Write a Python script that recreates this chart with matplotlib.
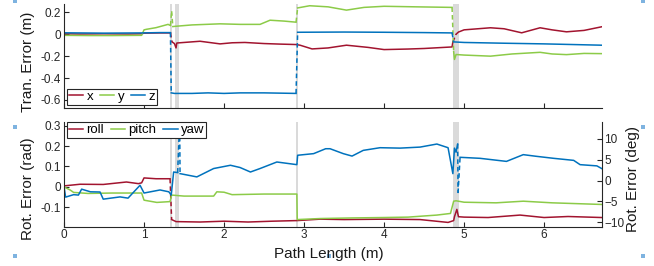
import numpy as np
import matplotlib
matplotlib.use("Agg")
import matplotlib.pyplot as plt
from matplotlib.ticker import FuncFormatter
from matplotlib.patches import Rectangle

plt.rcParams['font.family'] = ['Liberation Sans', 'DejaVu Sans']

nan = np.nan
# ---------------- translation error (m) ----------------
tx_x = [0, 0.2, 0.5, 0.8, 0.97, 1.0, 1.2, 1.33, nan,
        1.35, 1.38, 1.40, 1.41, 1.5, 1.7, 1.95, 2.1, 2.26, 2.5, 2.7, 2.9, 2.95, 3.1, 3.3, 3.53, 3.8, 4.0, 4.3, 4.5, 4.85, 4.86, nan,
        4.9, 4.93, 5.0, 5.33, 5.5, 5.72, 5.95, 6.1, 6.28, 6.5, 6.72]
tx_v = [0.004, 0.002, 0.004, 0.002, 0.004, 0.01, 0.012, 0.012, nan,
        -0.07, -0.085, -0.125, -0.08, -0.075, -0.064, -0.088, -0.078, -0.075, -0.085, -0.09, -0.094, -0.1, -0.134, -0.125, -0.1, -0.12, -0.14, -0.135, -0.13, -0.116, -0.07, nan,
        0.0, 0.02, 0.04, 0.059, 0.05, 0.013, 0.059, 0.04, 0.022, 0.035, 0.068]

ty_x = [0, 0.3, 0.6, 0.97, 1.0, 1.03, 1.15, 1.3, 1.33, nan, 1.345, nan,
        1.36, 1.4, 1.6, 1.95, 2.2, 2.45, 2.575, 2.75, 2.9, nan,
        2.92, 3.07, 3.3, 3.53, 3.75, 4.0, 4.4, 4.85, nan,
        4.87, 4.88, 4.9, 5.0, 5.33, 5.6, 5.95, 6.1, 6.28, 6.5, 6.72]
ty_v = [-0.01, -0.012, -0.012, -0.01, 0.04, 0.045, 0.06, 0.09, 0.08, nan, 0.21, nan,
        0.07, 0.073, 0.085, 0.095, 0.09, 0.09, 0.128, 0.12, 0.11, nan,
        0.24, 0.26, 0.25, 0.22, 0.245, 0.255, 0.25, 0.245, nan,
        -0.16, -0.23, -0.185, -0.19, -0.2, -0.18, -0.165, -0.18, -0.186, -0.175, -0.177]

tz_x = [0, 0.5, 0.97, 1.2, 1.33, nan,
        1.34, 1.38, 1.42, 1.6, 1.8, 2.0, 2.2, 2.5, 2.9, nan,
        2.92, 3.5, 4.0, 4.5, 4.85, nan,
        4.87, 5.0, 5.5, 6.0, 6.72]
tz_v = [0.013, 0.01, 0.012, 0.015, 0.015, nan,
        -0.535, -0.54, -0.54, -0.54, -0.535, -0.54, -0.535, -0.535, -0.54, nan,
        0.018, 0.02, 0.018, 0.015, 0.012, nan,
        -0.07, -0.075, -0.082, -0.088, -0.1]

# ---------------- rotation error (rad) ----------------
roll_x = [0, 0.2, 0.49, 0.78, 0.93, 0.97, 1.0, 1.15, 1.325, nan,
          1.345, 1.4, 1.7, 2.0, 2.3, 2.6, 2.91, 3.2, 3.5, 4.0, 4.45, 4.8, 4.87, 4.88, 4.91, 4.93, 5.0, 5.3, 5.7, 6.0, 6.3, 6.72]
roll_v = [0.005, 0.013, 0.012, 0.024, 0.016, 0.02, 0.044, 0.04, 0.04, nan,
          -0.16, -0.17, -0.172, -0.168, -0.172, -0.168, -0.165, -0.158, -0.16, -0.158, -0.16, -0.174, -0.165, -0.146, -0.11, -0.146, -0.148, -0.15, -0.138, -0.15, -0.145, -0.15]

pitch_x = [0, 0.08, 0.12, 0.3, 0.6, 0.97, 1.0, 1.16, 1.325, 1.345, 1.5, 1.87, 1.91, 2.0, 2.1, 2.5, 2.91,
           2.915, 3.2, 3.6, 4.0, 4.3, 4.66, 4.83, 4.87, 4.9, 5.0, 5.4, 5.74, 6.1, 6.72]
pitch_v = [0.0, -0.016, -0.027, -0.032, -0.03, -0.03, -0.065, -0.076, -0.072, -0.04, -0.045, -0.045, -0.024, -0.026, -0.038, -0.035, -0.035,
           -0.16, -0.155, -0.152, -0.15, -0.148, -0.138, -0.13, -0.07, -0.068, -0.075, -0.078, -0.07, -0.078, -0.086]

yaw_x = [0, 0.02, 0.12, 0.18, 0.22, 0.33, 0.45, 0.49, 0.7, 0.8, 0.95, 1.0, 1.2, 1.31, 1.34, 1.37, 1.42, nan, 1.445, nan,
         1.45, 1.66, 1.87, 2.08, 2.2, 2.33, 2.45, 2.66, 2.91, 2.92, 3.12, 3.27, 3.325, 3.49, 3.6, 3.74, 3.95, 4.2, 4.45, 4.66, 4.8,
         4.86, 4.88, 4.9, 4.92, nan, 4.925, nan,
         4.95, 5.2, 5.53, 5.74, 5.9, 6.12, 6.37, 6.45, 6.66, 6.72]
yaw_v = [0.0, -0.05, -0.038, -0.04, -0.011, -0.024, -0.025, -0.06, -0.049, -0.055, 0.008, -0.03, -0.015, -0.024, -0.04, 0.073, 0.07, nan, 0.32, nan,
         0.065, 0.049, 0.09, 0.106, 0.095, 0.073, 0.09, 0.122, 0.109, 0.155, 0.163, 0.187, 0.187, 0.163, 0.151, 0.179, 0.192, 0.19, 0.195, 0.21, 0.192,
         0.065, 0.19, 0.17, 0.21, nan, -0.03, nan,
         0.145, 0.14, 0.125, 0.158, 0.15, 0.14, 0.13, 0.109, 0.103, 0.09]

# shaded regions (path length, m)
band_lo = [1.33, 1.39, 2.90, 4.86]
band_hi = [1.35, 1.44, 2.92, 4.94]

c_red = '#A2142F'
c_green = '#8CCB48'
c_blue = '#0072BD'
axis_c = '#262626'

fig = plt.figure(figsize=(6.54, 2.66), dpi=100)
ax1 = fig.add_axes([0.0979, 0.594, 0.8221, 0.391])
ax2 = fig.add_axes([0.0979, 0.1477, 0.8221, 0.3937])
ax3 = ax2.twinx()

def draw(ax, xs, vs, color, label):
    xs = np.asarray(xs, float); vs = np.asarray(vs, float)
    ax.plot(xs, vs, color=color, lw=1.1, label=label, solid_joinstyle='round')
    # dashed connectors across gaps
    idx = np.where(np.isnan(xs))[0]
    for i in idx:
        j0 = i - 1
        j1 = i + 1
        if j0 >= 0 and j1 < len(xs) and not np.isnan(xs[j0]) and not np.isnan(xs[j1]):
            ax.plot([xs[j0], xs[j1]], [vs[j0], vs[j1]], color=color, lw=1.1, ls=(0, (3, 2)))

for ax in (ax1, ax2):
    for lo, hi in zip(band_lo, band_hi):
        ax.axvspan(lo, hi, color='#DADADA', lw=0, zorder=0)

draw(ax1, tx_x, tx_v, c_red, 'x')
draw(ax1, ty_x, ty_v, c_green, 'y')
draw(ax1, tz_x, tz_v, c_blue, 'z')

draw(ax2, roll_x, roll_v, c_red, 'roll')
draw(ax2, pitch_x, pitch_v, c_green, 'pitch')
draw(ax2, yaw_x, yaw_v, c_blue, 'yaw')

fmt = FuncFormatter(lambda v, p: '%g' % round(v, 6))

ax1.set_xlim(0, 6.72)
ax1.set_ylim(-0.673, 0.276)
ax1.set_yticks([-0.6, -0.4, -0.2, 0, 0.2])
ax1.yaxis.set_major_formatter(fmt)
ax1.set_xticks(range(0, 7))
ax1.tick_params(labelbottom=False)
ax1.spines['top'].set_visible(False)
ax1.spines['right'].set_visible(False)

ax2.set_xlim(0, 6.72)
ax2.set_ylim(-0.195, 0.318)
ax2.set_yticks([-0.1, 0, 0.1, 0.2, 0.3])
ax2.yaxis.set_major_formatter(fmt)
ax2.set_xticks(range(0, 7))
ax2.spines['top'].set_visible(False)
ax2.spines['right'].set_visible(False)

ax3.set_ylim(-11.06, 14.08)
ax3.set_yticks([-10, -5, 0, 5, 10])
ax3.spines['top'].set_visible(False)
ax3.spines['left'].set_visible(False)
ax3.spines['bottom'].set_visible(False)

for ax in (ax1, ax2, ax3):
    ax.tick_params(direction='in', length=3.5, width=0.8, colors=axis_c, labelsize=8.5, pad=2)
    for s in ax.spines.values():
        s.set_color(axis_c); s.set_linewidth(0.8)
    ax.patch.set_visible(False)

ax1.set_ylabel('Tran. Error (m)', fontsize=11, color='#1a1a1a')
ax1.yaxis.set_label_coords(-0.054, 0.44)
ax2.set_ylabel('Rot. Error (rad)', fontsize=11, color='#1a1a1a')
ax2.yaxis.set_label_coords(-0.054, 0.36)
ax3.set_ylabel('Rot. Error (deg)', fontsize=11, color='#1a1a1a', rotation=90)
ax3.yaxis.set_label_coords(1.045, 0.456)
fig.text(0.503, 1 - 254 / 266, 'Path Length (m)', ha='center', va='center', fontsize=11, color='#1a1a1a')

legkw = dict(ncol=3, fontsize=9.5, handlelength=1.1, handletextpad=0.25, columnspacing=0.5,
             borderpad=0.15, borderaxespad=0, fancybox=False, framealpha=1, edgecolor='#262626')
lg1 = ax1.legend(loc='lower left', bbox_to_anchor=(0.005, 0.028), **legkw)
lg2 = ax2.legend(loc='upper left', bbox_to_anchor=(0.005, 1.0), **legkw)
for lg in (lg1, lg2):
    lg.get_frame().set_linewidth(0.8)

# figure selection handles
for (px, py) in [(15, 1), (643, 1), (15, 127), (643, 127), (15, 256), (329, 256), (643, 256)]:
    fig.add_artist(Rectangle(((px - 2) / 654, 1 - (py + 2) / 266), 4 / 654, 4 / 266,
                             transform=fig.transFigure, color='#7EB3E0', lw=0))

fig.savefig('out.png', dpi=100)
